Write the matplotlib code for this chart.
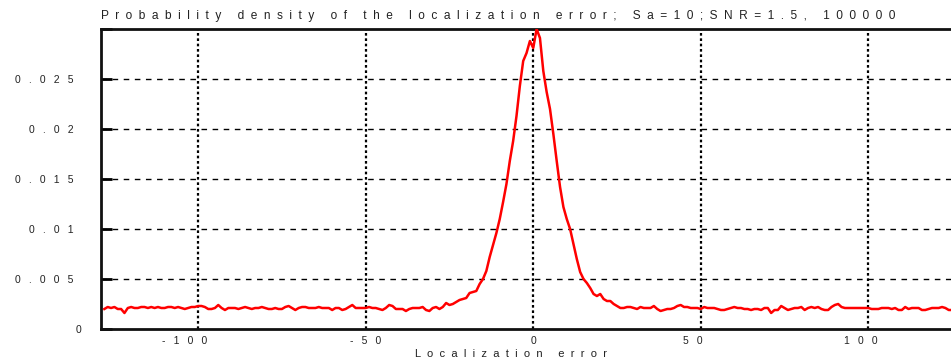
import numpy as np
import matplotlib
matplotlib.use("Agg")
import matplotlib.pyplot as plt
from matplotlib.transforms import ScaledTranslation

# ---- data (density in units of 1e-4) ----
x_start, x_stop = -128, 125
density_x1e4 = [
    20, 22, 21, 22, 20, 20, 16, 21, 22, 21,   # -128..-119
    21, 22, 22, 21, 22, 21, 22, 21, 21, 22,   # -118..-109
    22, 21, 22, 21, 20, 21, 22, 22, 23, 23,   # -108..-99
    22, 20, 20, 21, 24, 21, 19, 21, 21, 21,   # -98..-89
    20, 21, 22, 21, 20, 21, 21, 22, 21, 20,   # -88..-79
    20, 21, 20, 20, 22, 23, 21, 19, 21, 22,   # -78..-69
    22, 21, 21, 21, 22, 21, 21, 21, 19, 21,   # -68..-59
    21, 19, 20, 22, 24, 21, 21, 21, 21, 22,   # -58..-49
    21, 21, 20, 19, 21, 24, 23, 20, 20, 20,   # -48..-39
    18, 20, 21, 21, 21, 22, 19, 18, 21, 22,   # -38..-29
    20, 22, 26, 24, 25, 27, 29, 30, 31, 36,   # -28..-19
    37, 38, 45, 50, 58, 72, 84, 96, 110, 127, # -18..-9
    145, 168, 188, 213, 243, 268, 276, 288, 281, 300,  # -8..1
    291, 258, 237, 220, 195, 168, 142, 122, 110, 100,  # 2..11
    85, 70, 57, 50, 46, 41, 35, 33, 35, 30,   # 12..21
    28, 28, 25, 23, 21, 21, 22, 22, 21, 20,   # 22..31
    22, 21, 21, 21, 23, 20, 18, 19, 20, 20,   # 32..41
    21, 23, 24, 22, 22, 21, 21, 21, 20, 22,   # 42..51
    21, 21, 21, 20, 19, 19, 20, 21, 22, 21,   # 52..61
    21, 20, 20, 19, 20, 20, 19, 21, 21, 16,   # 62..71
    19, 19, 23, 21, 19, 20, 21, 21, 22, 19,   # 72..81
    21, 22, 21, 22, 20, 19, 19, 22, 24, 25,   # 82..91
    22, 21, 21, 21, 21, 21, 21, 21, 21, 20,   # 92..101
    20, 20, 21, 21, 21, 20, 21, 19, 19, 22,   # 102..111
    20, 21, 21, 21, 19, 19, 20, 21, 21, 21,   # 112..121
    22, 21, 19, 19,                            # 122..125
]
x_vals = np.arange(x_start, x_stop + 1)
y_vals = np.array(density_x1e4) * 1e-4

x_ticks = [-100, -50, 0, 50, 100]
x_ticklabels = ["-100", "-50", "0", "50", "100"]
y_ticks = [0, 0.005, 0.01, 0.015, 0.02, 0.025, 0.03]
y_ticklabels = ["0", "0.005", "0.01", "0.015", "0.02", "0.025", ""]
title = "Probability density of the localization error; Sa=10;SNR=1.5, 100000"
xlabel = "Localization error"


def spaced(s, gap="  "):
    return gap.join(s)


TICK_GAP = " \u2002"

plt.rcParams["font.family"] = ["Liberation Sans", "DejaVu Sans"]
W, H = 951, 362
fig = plt.figure(figsize=(W / 100, H / 100), dpi=100)
ax = fig.add_axes([101 / W, 33 / H, 864.5 / W, 300 / H])

ax.plot(x_vals, y_vals, color="#ff0000", lw=1.8, zorder=3)

ax.set_xlim(-129, 129)
ax.set_ylim(0, 0.03)

ax.set_xticks(x_ticks)
ax.set_xticklabels([spaced(t, TICK_GAP) for t in x_ticklabels])
ax.set_yticks(y_ticks)
ax.set_yticklabels([spaced(t, TICK_GAP) for t in y_ticklabels])

ax.tick_params(axis="y", direction="in", length=8, width=2, pad=20,
               labelsize=7.5, labelcolor="#222222", right=False)
ax.tick_params(axis="x", direction="in", length=0, width=0, pad=5,
               labelsize=7.5, labelcolor="#222222", top=False)

# small per-label horizontal offsets seen in the reference (pixels)
x_offsets = {"-100": -14, "50": -8, "100": -8}
for lab, txt in zip(ax.get_xticklabels(), x_ticklabels):
    dx = x_offsets.get(txt, 0)
    if dx:
        lab.set_transform(lab.get_transform() + ScaledTranslation(dx / 100, 0, fig.dpi_scale_trans))
for lab, txt in zip(ax.get_yticklabels(), y_ticklabels):
    if txt == "0":
        lab.set_transform(lab.get_transform() + ScaledTranslation(8 / 100, 0, fig.dpi_scale_trans))

for y in y_ticks[1:-1]:
    ax.axhline(y, color="black", lw=1.0, ls=(0, (4, 4)), zorder=1)
for x in x_ticks:
    ax.axvline(x, color="black", lw=1.6, ls=(0, (1.2, 1.2)), zorder=1)

for side in ["left", "bottom", "top"]:
    ax.spines[side].set_linewidth(2)
    ax.spines[side].set_color("#111111")
ax.spines["right"].set_visible(False)

ax.set_title(spaced(title), loc="left", fontsize=8.6, color="#222222", pad=7)
fig.text(511 / W, 1 - 354 / H, spaced(xlabel), ha="center", va="center",
         fontsize=8, color="#222222")

fig.savefig("out.png", dpi=100)
